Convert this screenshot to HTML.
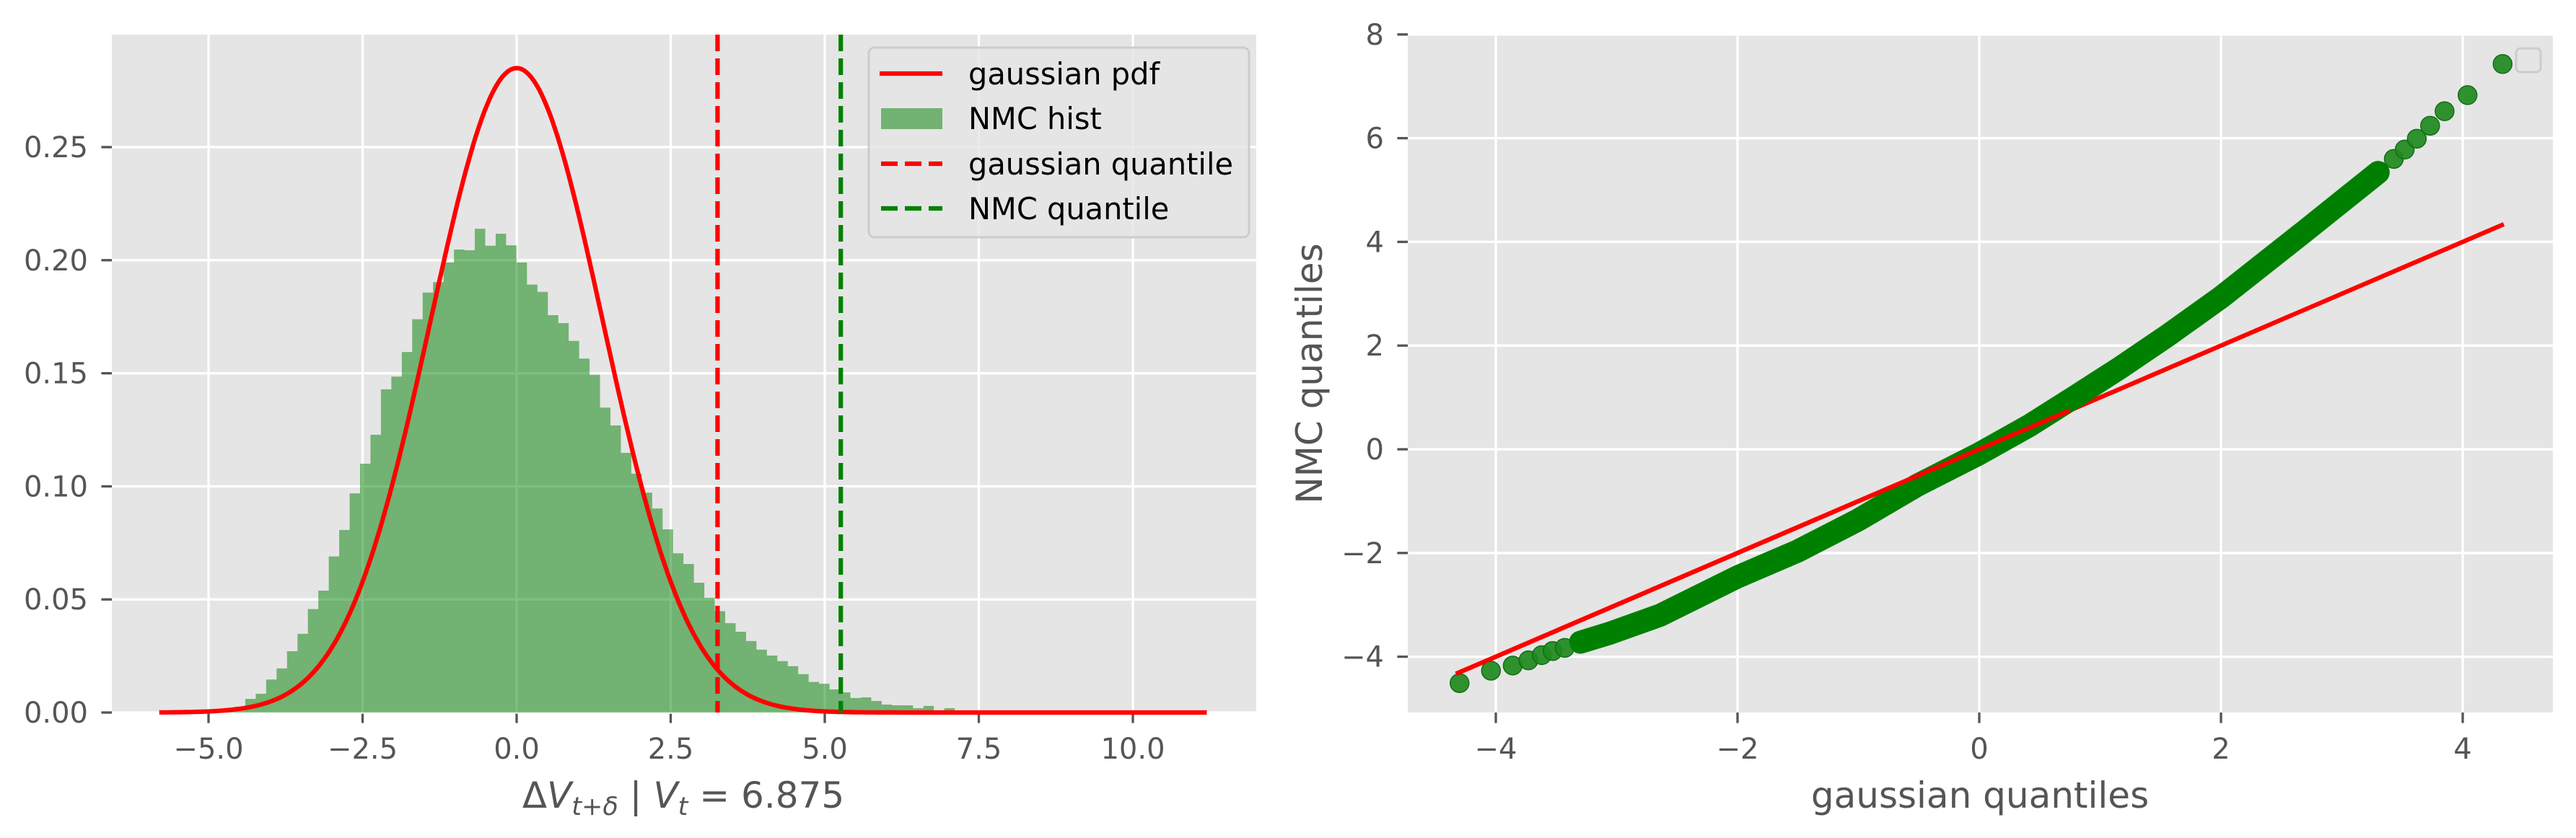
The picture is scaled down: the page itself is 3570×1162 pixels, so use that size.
<!DOCTYPE html>
<html><head><meta charset="utf-8"><style>
html,body{margin:0;padding:0;background:#fff;}
svg{display:block;font-family:"DejaVu Sans","Liberation Sans",sans-serif;}
</style></head><body>
<svg id="fig" width="3570" height="1162" viewBox="0 0 3570 1162" xmlns="http://www.w3.org/2000/svg">
<rect x="0" y="0" width="3570" height="1162" fill="#fff"/>
<g id="left"></g>
<g id="right"></g>
</svg>
<script>
// ---- Left chart data ----
const binStart = -4.742;
const binWidth = 0.1693;
const histDensity = [0.002,0.0026,0.006,0.0083,0.0146,0.0195,0.0271,0.0348,0.0457,0.0539,
0.069,0.0807,0.0969,0.110,0.1228,0.1429,0.1485,0.1594,0.1739,0.1857,
0.1903,0.199,0.2047,0.2044,0.2139,0.2064,0.2117,0.2066,0.199,0.1892,
0.186,0.1757,0.1722,0.1643,0.1565,0.1493,0.1348,0.1269,0.1148,0.1056,
0.0972,0.0902,0.081,0.0704,0.0657,0.0574,0.0507,0.0448,0.0395,0.0357,
0.0316,0.0278,0.0252,0.0227,0.0205,0.017,0.0135,0.0127,0.0102,0.0089,
0.0064,0.0067,0.0051,0.0035,0.0032,0.0032,0.0019,0.0029,0.001,0.0019,0.0006];
const pdfMean = 0;
const pdfSigma = 1.4;
const pdfRange = [-5.8, 11.2];
const gaussianQuantile = 3.26;
const nmcQuantile = 5.26;
const leftXTicks = [-5, -2.5, 0, 2.5, 5, 7.5, 10];
const leftXTickLabels = ["\u22125.0","\u22122.5","0.0","2.5","5.0","7.5","10.0"];
const leftYTicks = [0, 0.05, 0.10, 0.15, 0.20, 0.25];
const leftYTickLabels = ["0.00","0.05","0.10","0.15","0.20","0.25"];
const legendLabels = ["gaussian pdf","NMC hist","gaussian quantile","NMC quantile"];

// ---- Right chart data ----
const qqGauss = [-4.30,-4.04,-3.86,-3.73,-3.62,-3.53,-3.43,-3.30,-3.06,-2.64,-2.0,-1.5,-1.0,-0.51,0,0.41,0.79,1.17,1.55,2.0,2.31,2.69,3.07,3.30,3.43,3.52,3.62,3.73,3.85,4.04,4.33];
const qqNMC =   [-4.51,-4.27,-4.17,-4.07,-3.97,-3.89,-3.83,-3.72,-3.55,-3.2,-2.46,-1.96,-1.36,-0.69,-0.085,0.45,1.01,1.58,2.18,2.93,3.5,4.2,4.91,5.34,5.6,5.78,5.99,6.24,6.52,6.83,7.43];
const refLine = [-4.33, 4.34];
const denseRange = [-3.35, 3.35];
const rightXTicks = [-4,-2,0,2,4];
const rightXTickLabels = ["\u22124","\u22122","0","2","4"];
const rightYTicks = [-4,-2,0,2,4,6,8];
const rightYTickLabels = ["\u22124","\u22122","0","2","4","6","8"];

const NS = "http://www.w3.org/2000/svg";
function mk(parent, tag, attrs, text){
  const e = document.createElementNS(NS, tag);
  for (const k in attrs) e.setAttribute(k, attrs[k]);
  if (text !== undefined) e.textContent = text;
  parent.appendChild(e);
  return e;
}

// Left axes geometry
const L = {x0:155, x1:1741, y0:48, y1:988};
const xL = v => 716 + 85.4*v;
const yL = v => 988 - 3136*v;
const left = document.getElementById('left');

let bg = mk(left,'rect',{x:L.x0,y:L.y0,width:L.x1-L.x0,height:L.y1-L.y0,fill:'#E5E5E5'});


leftXTicks.forEach((t,i)=>{
  const g = mk(left,'line',{x1:xL(t),x2:xL(t),y1:L.y0,y2:L.y1,stroke:'#fff','stroke-width':3.3});
  
  
  const tk = mk(left,'line',{x1:xL(t),x2:xL(t),y1:L.y1,y2:L.y1+14.6,stroke:'#555','stroke-width':3.3});
  
  
  const lb = mk(left,'text',{x:xL(t),y:1052,'text-anchor':'middle','font-size':40,fill:'#555'},leftXTickLabels[i]);
  
  
});
leftYTicks.forEach((t,i)=>{
  const g = mk(left,'line',{x1:L.x0,x2:L.x1,y1:yL(t),y2:yL(t),stroke:'#fff','stroke-width':3.3});
  
  
  const tk = mk(left,'line',{x1:L.x0-14.6,x2:L.x0,y1:yL(t),y2:yL(t),stroke:'#555','stroke-width':3.3});
  
  
  const lb = mk(left,'text',{x:122,y:yL(t)+14,'text-anchor':'end','font-size':40,fill:'#555'},leftYTickLabels[i]);
  
  
});
// histogram drawn as one step outline (avoids seams between bars)
let d = 'M' + xL(binStart).toFixed(2) + ',' + yL(0).toFixed(2);
histDensity.forEach((v,i)=>{
  const a = binStart + i*binWidth;
  const b = a + binWidth;
  d += ' L' + xL(a).toFixed(2) + ',' + yL(v).toFixed(2) + ' L' + xL(b).toFixed(2) + ',' + yL(v).toFixed(2);
});
d += ' L' + xL(binStart + histDensity.length*binWidth).toFixed(2) + ',' + yL(0).toFixed(2) + ' Z';
const hist = mk(left,'path',{d:d,fill:'#008000','fill-opacity':0.5});


// gaussian pdf
let pts = [];
for (let k=0;k<=400;k++){
  const x = pdfRange[0] + (pdfRange[1]-pdfRange[0])*k/400;
  const y = Math.exp(-0.5*Math.pow((x-pdfMean)/pdfSigma,2))/(pdfSigma*Math.sqrt(2*Math.PI));
  pts.push(xL(x).toFixed(1)+','+yL(y).toFixed(1));
}
const pdf = mk(left,'polyline',{points:pts.join(' '),fill:'none',stroke:'#FF0000','stroke-width':6.2,'stroke-linejoin':'round'});


const q1 = mk(left,'line',{x1:xL(gaussianQuantile),x2:xL(gaussianQuantile),y1:L.y0,y2:L.y1,stroke:'#FF0000','stroke-width':6.2,'stroke-dasharray':'23,10'});


const q2 = mk(left,'line',{x1:xL(nmcQuantile),x2:xL(nmcQuantile),y1:L.y0,y2:L.y1,stroke:'#008000','stroke-width':6.2,'stroke-dasharray':'23,10'});


// legend
const lg = mk(left,'g',{});


mk(lg,'rect',{x:1204,y:66,width:527,height:263,rx:8,fill:'#E5E5E5','fill-opacity':0.8,stroke:'#CCCCCC','stroke-width':3});
const rows = [102,164,227,289];
let e;
e = mk(lg,'line',{x1:1219,x2:1306,y1:rows[0],y2:rows[0],stroke:'#FF0000','stroke-width':6.2});


e = mk(lg,'rect',{x:1221,y:150,width:85,height:29,fill:'#008000','fill-opacity':0.5});


e = mk(lg,'line',{x1:1221,x2:1306,y1:rows[2],y2:rows[2],stroke:'#FF0000','stroke-width':6.2,'stroke-dasharray':'23,10'});


e = mk(lg,'line',{x1:1221,x2:1306,y1:rows[3],y2:rows[3],stroke:'#008000','stroke-width':6.2,'stroke-dasharray':'23,10'});


legendLabels.forEach((t,i)=>{
  const tx = mk(lg,'text',{x:1342,y:rows[i]+15,'font-size':41.5,fill:'#000'},t);
  
  
});
// x label
const xl = mk(left,'text',{x:947,y:1120,'text-anchor':'middle','font-size':50,fill:'#555'});


xl.innerHTML = '\u0394<tspan font-style="italic">V</tspan><tspan font-style="italic" font-size="35" dy="10">t</tspan><tspan font-size="35">+</tspan><tspan font-style="italic" font-size="35">\u03b4</tspan><tspan dy="-10"> | </tspan><tspan font-style="italic">V</tspan><tspan font-style="italic" font-size="35" dy="10">t</tspan><tspan dy="-10"> = 6.875</tspan>';

// Right axes
const R = {x0:1951, x1:3538, y0:48, y1:988};
const xR = v => 2743 + 167.5*v;
const yR = v => 623 - 71.9*v;
const right = document.getElementById('right');
bg = mk(right,'rect',{x:R.x0,y:R.y0,width:R.x1-R.x0,height:R.y1-R.y0,fill:'#E5E5E5'});


rightXTicks.forEach((t,i)=>{
  const g = mk(right,'line',{x1:xR(t),x2:xR(t),y1:R.y0,y2:R.y1,stroke:'#fff','stroke-width':3.3});
  
  
  const tk = mk(right,'line',{x1:xR(t),x2:xR(t),y1:R.y1,y2:R.y1+14.6,stroke:'#555','stroke-width':3.3});
  
  
  const lb = mk(right,'text',{x:xR(t),y:1052,'text-anchor':'middle','font-size':40,fill:'#555'},rightXTickLabels[i]);
  
  
});
rightYTicks.forEach((t,i)=>{
  const g = mk(right,'line',{x1:R.x0,x2:R.x1,y1:yR(t),y2:yR(t),stroke:'#fff','stroke-width':3.3});
  
  
  const tk = mk(right,'line',{x1:R.x0-14.6,x2:R.x0,y1:yR(t),y2:yR(t),stroke:'#555','stroke-width':3.3});
  
  
  const lb = mk(right,'text',{x:1918,y:yR(t)+14,'text-anchor':'end','font-size':40,fill:'#555'},rightYTickLabels[i]);
  
  
});
const rl = mk(right,'line',{x1:xR(refLine[0]),y1:yR(refLine[0]),x2:xR(refLine[1]),y2:yR(refLine[1]),stroke:'#FF0000','stroke-width':6.2});


// dense band
const dense = qqGauss.map((g,i)=>[g,qqNMC[i]]).filter(p=>p[0]>=denseRange[0] && p[0]<=denseRange[1]);
const band = mk(right,'polyline',{points:dense.map(p=>xR(p[0]).toFixed(1)+','+yR(p[1]).toFixed(1)).join(' '),fill:'none',stroke:'#008000','stroke-width':32,'stroke-linejoin':'round','stroke-linecap':'round'});


qqGauss.forEach((g,i)=>{
  const inDense = g>=denseRange[0] && g<=denseRange[1];
  const c = mk(right,'circle',inDense
    ? {cx:xR(g),cy:yR(qqNMC[i]),r:15,fill:'#008000'}
    : {cx:xR(g),cy:yR(qqNMC[i]),r:13,fill:'#1E8A1E','fill-opacity':0.92,stroke:'#146c14','stroke-width':1.5});
  
  
});
const rl2 = mk(right,'line',{x1:xR(refLine[0]),y1:yR(refLine[0]),x2:xR(0.75),y2:yR(0.75),stroke:'#FF0000','stroke-width':6.2});


const el = mk(right,'rect',{x:3487,y:67,width:34,height:33,rx:6,fill:'#E5E5E5',stroke:'#CCCCCC','stroke-width':3});


const rxl = mk(right,'text',{x:2744,y:1120,'text-anchor':'middle','font-size':50,fill:'#555'},'gaussian quantiles');


const ryl = mk(right,'text',{x:0,y:0,'text-anchor':'middle','font-size':50,fill:'#555',transform:'translate(1832,518) rotate(-90)'},'NMC quantiles');


</script>
</body></html>
